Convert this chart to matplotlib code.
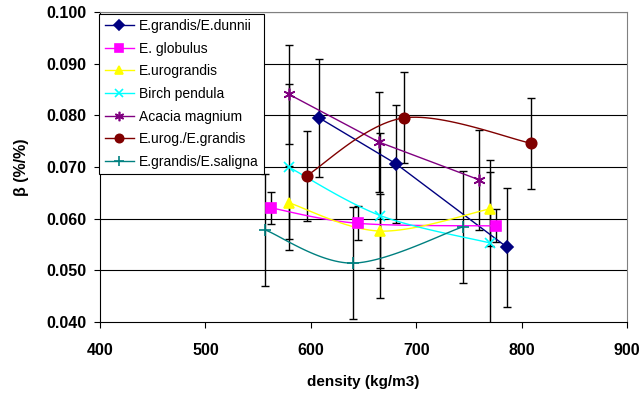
import numpy as np
import matplotlib.pyplot as plt

# density (kg/m3), beta (%/%), error bar half-length
dunnii_x = [608, 681, 786]
dunnii_y = [0.0795, 0.0706, 0.0545]
dunnii_err = [0.0114, 0.0114, 0.0115]

globulus_x = [562, 645, 776]
globulus_y = [0.0621, 0.0591, 0.0586]
globulus_err = [0.0031, 0.0033, 0.0032]

urograndis_x = [579, 666, 770]
urograndis_y = [0.0631, 0.0576, 0.0619]
urograndis_err = [0.0071, 0.0071, 0.0071]

birch_x = [579, 666, 770]
birch_y = [0.0700, 0.0606, 0.0553]
birch_err = [0.0160, 0.0160, 0.0160]

acacia_x = [579, 665, 760]
acacia_y = [0.0841, 0.0748, 0.0675]
acacia_err = [0.0096, 0.0097, 0.0097]

urog_grandis_x = [596, 688, 809]
urog_grandis_y = [0.0683, 0.0795, 0.0746]
urog_grandis_err = [0.0087, 0.0088, 0.0088]

saligna_x = [557, 640, 744]
saligna_y = [0.0578, 0.0514, 0.0584]
saligna_err = [0.0108, 0.0109, 0.0109]


def smooth(xs, ys, n=30):
    # excel-like smoothed line (bezier through the points)
    p = np.column_stack([xs, ys]).astype(float)
    pts = np.vstack([p[0], p, p[-1]])
    t = np.linspace(0, 1, n)[:, None]
    out = []
    for i in range(1, len(pts) - 2):
        p0, p1, p2, p3 = pts[i - 1], pts[i], pts[i + 1], pts[i + 2]
        c1 = p1 + (p2 - p0) / 6
        c2 = p2 - (p3 - p1) / 6
        seg = ((1 - t) ** 3) * p1 + 3 * ((1 - t) ** 2) * t * c1 + 3 * (1 - t) * t ** 2 * c2 + t ** 3 * p2
        out.append(seg)
    out = np.vstack(out)
    return out[:, 0], out[:, 1]


series = [
    ('E.grandis/E.dunnii', dunnii_x, dunnii_y, dunnii_err, '#000080', 'D', 6.5, False),
    ('E. globulus', globulus_x, globulus_y, globulus_err, '#FF00FF', 's', 7, True),
    ('E.urograndis', urograndis_x, urograndis_y, urograndis_err, '#FFFF00', '^', 7.5, True),
    ('Birch pendula', birch_x, birch_y, birch_err, '#00FFFF', 'x', 7.5, True),
    ('Acacia magnium', acacia_x, acacia_y, acacia_err, '#800080', (6, 2, 0), 8.5, False),
    ('E.urog./E.grandis', urog_grandis_x, urog_grandis_y, urog_grandis_err, '#800000', 'o', 7.5, True),
    ('E.grandis/E.saligna', saligna_x, saligna_y, saligna_err, '#008080', '+', 8.5, True),
]

plt.rcParams['font.family'] = ['Liberation Sans', 'DejaVu Sans']

fig = plt.figure(figsize=(6.42, 3.94), dpi=100)
ax = fig.add_axes([0.1558, 0.1827, 0.8208, 0.7868])

for y in np.arange(0.05, 0.1001, 0.01):
    ax.axhline(y, color='black', lw=0.8, zorder=1)

for name, xs, ys, err, col, mk, ms, sm in series:
    ax.errorbar(xs, ys, yerr=err, fmt='none', ecolor='black', elinewidth=1.0,
                capsize=3, capthick=1.0, zorder=2)
for name, xs, ys, err, col, mk, ms, sm in series:
    if sm:
        sx, sy = smooth(xs, ys)
    else:
        sx, sy = xs, ys
    ax.plot(sx, sy, color=col, lw=1.0, zorder=3)
    ax.plot(xs, ys, linestyle='none', marker=mk, ms=ms, color=col,
            mec=col, mew=1.2, zorder=4)
    ax.plot([], [], color=col, lw=1.0, marker=mk, ms=ms, mec=col, mew=1.2, label=name)

ax.set_xlim(400, 900)
ax.set_ylim(0.04, 0.1)
ax.set_xticks(range(400, 901, 100))
ax.set_yticks(np.arange(0.04, 0.1001, 0.01))
ax.set_yticklabels(['%.3f' % v for v in np.arange(0.04, 0.1001, 0.01)])
ax.tick_params(direction='out', length=4, width=0.8, labelsize=11.5, pad=6)
for lab in ax.get_xticklabels() + ax.get_yticklabels():
    lab.set_fontweight('bold')
ax.tick_params(axis='x', pad=11)

ax.spines['left'].set_color('black')
ax.spines['bottom'].set_color('black')
ax.spines['right'].set_color('#808080')
ax.spines['top'].set_color('#808080')

ax.set_xlabel('density (kg/m3)', fontsize=11, fontweight='bold', labelpad=12)
ax.set_ylabel('β (%/%)', fontsize=11.5, fontweight='bold', labelpad=12)

leg = ax.legend(loc='upper left', bbox_to_anchor=(-0.002, 0.995), fontsize=10,
                frameon=True, fancybox=False, edgecolor='black', framealpha=1,
                borderpad=0.4, labelspacing=0.62, handlelength=2.1,
                handletextpad=0.35, borderaxespad=0, markerscale=0.8)
leg.get_frame().set_linewidth(0.8)
leg.set_zorder(10)

fig.savefig('out.png', dpi=100)
